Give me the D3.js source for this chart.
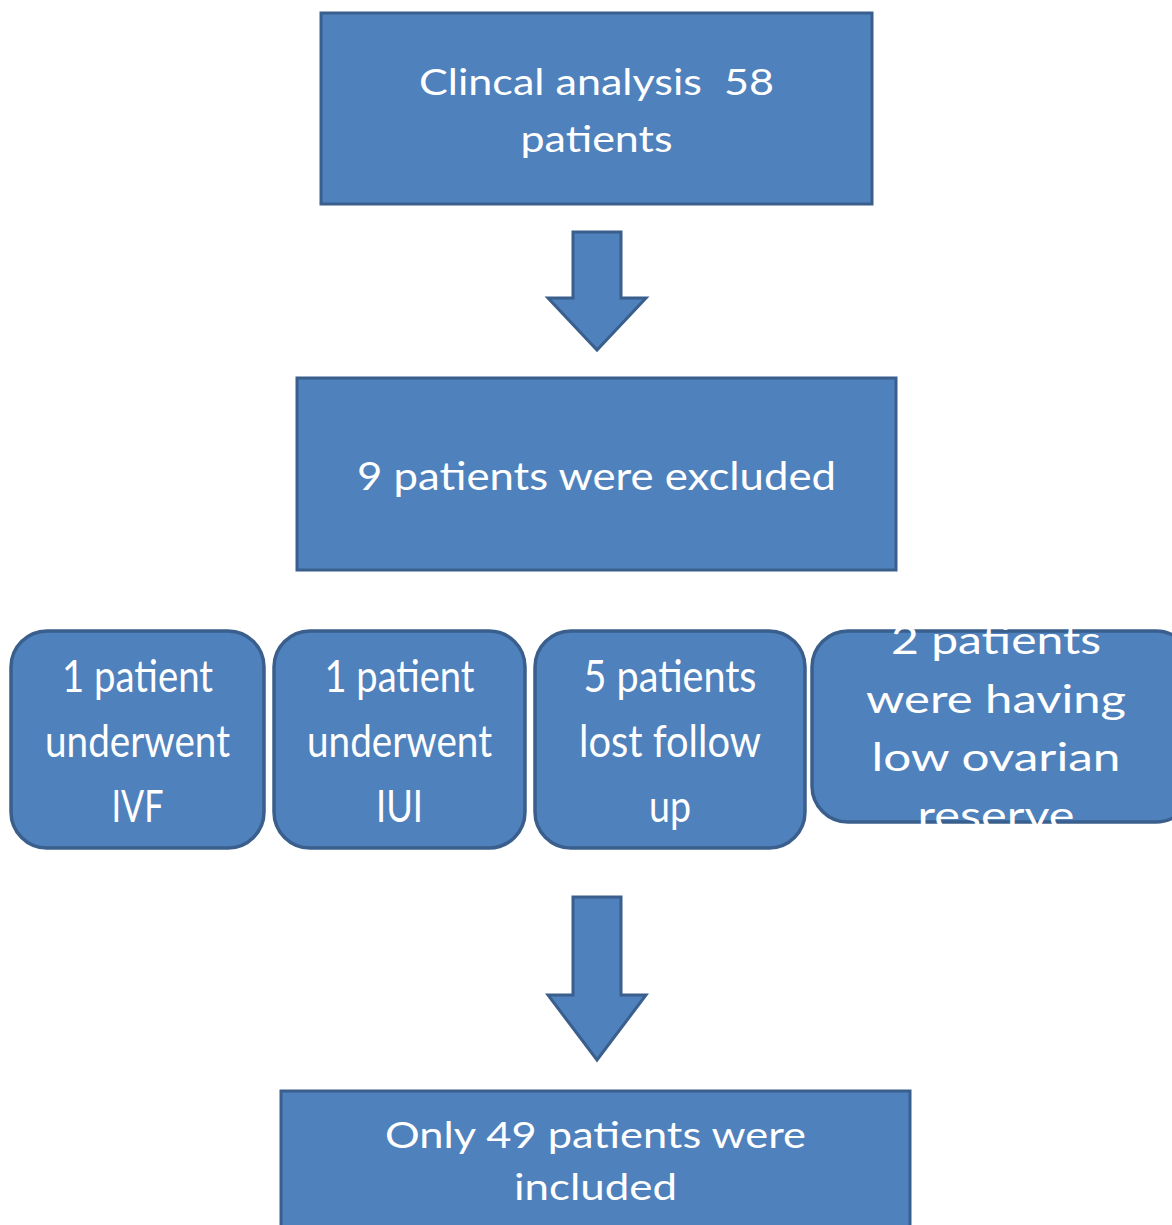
<!DOCTYPE html>
<html><head><meta charset="utf-8">
<script src="https://cdn.jsdelivr.net/npm/d3@7"></script>
<style>html,body{margin:0;padding:0;background:#fff;overflow:hidden} text{white-space:pre}</style>
</head><body>
<svg id="c" width="1172" height="1225"></svg>
<script>
// ---- data ----
const topLabel = ["Clincal analysis  58", "patients"];
const excludedLabel = ["9 patients were excluded"];
const reasonLabels = [
  ["1 patient", "underwent", "IVF"],
  ["1 patient", "underwent", "IUI"],
  ["5 patients", "lost follow", "up"],
  ["2 patients", "were having", "low ovarian", "reserve"]
];
const includedLabel = ["Only 49 patients were", "included"];

// ---- layout ----
const FILL = "#4f81bd", STROKE = "#3a5f8d", FONT = "Lato, 'Open Sans', sans-serif";
const svg = d3.select("#c");

const rects = [
  {x:321, y:13, w:551, h:191, lines:topLabel, base:[95,152], fs:37, widths:[355,152]},
  {x:297, y:378, w:599, h:192, lines:excludedLabel, base:[490], fs:38, widths:[479]},
  {x:281, y:1091, w:629, h:150, lines:includedLabel, base:[1148,1200], fs:37, widths:[421,163]}
];
const rounded = [
  {x:11, y:631, w:253, h:217, fs:44, base:[692,757,822], widths:[151,185,52]},
  {x:274, y:631, w:251, h:217, fs:44, base:[692,757,822], widths:[150,185,47]},
  {x:535, y:631, w:270, h:217, fs:44, base:[692,757,822], widths:[173,182,42]},
  {x:812, y:631, w:380, h:191, fs:38, base:[654,713,771,829], widths:[210,260,249,157], clip:[626,829]}
];
rounded.forEach((r,i)=> r.lines = reasonLabels[i]);

const arrows = [
  {cx:597, y0:232, yb:298, y1:350},
  {cx:597, y0:897, yb:995, y1:1060}
];

svg.append("defs").selectAll("clipPath").data(rounded.filter(r=>r.clip)).join("clipPath")
  .attr("id",(d,i)=>"clipD"+i)
  .append("rect").attr("x",d=>d.x).attr("y",d=>d.clip[0]).attr("width",d=>d.w).attr("height",d=>d.clip[1]-d.clip[0]);

function drawText(g, d, clipId){
  const cx = d.x + d.w/2;
  const t = g.append("g");
  if (clipId) t.attr("clip-path", `url(#${clipId})`);
  d.lines.forEach((s,i)=>{
    const cxl = (d.cxs ? d.cxs[i] : cx);
    t.append("text").attr("x", cxl).attr("y", d.base[i])
      .attr("text-anchor","middle").attr("fill","#fff")
      .attr("font-family",FONT).attr("font-size",d.fs)
      .attr("textLength", d.widths[i]).attr("lengthAdjust","spacingAndGlyphs")
      .text(s);
  });
}

// rectangles
rects.forEach(d=>{
  const g = svg.append("g");
  g.append("rect").attr("x",d.x).attr("y",d.y).attr("width",d.w).attr("height",d.h)
    .attr("fill",FILL).attr("stroke",STROKE).attr("stroke-width",3);
  drawText(g,d);
});

// rounded boxes
rounded.forEach(d=>{
  const g = svg.append("g");
  g.append("rect").attr("x",d.x).attr("y",d.y).attr("width",d.w).attr("height",d.h)
    .attr("rx",36).attr("ry",36)
    .attr("fill",FILL).attr("stroke",STROKE).attr("stroke-width",3.5);
});
// box D text centre
rounded[3].cxs = [996,996,996,996];
let ci = 0;
rounded.forEach(d=>{ drawText(svg, d, d.clip ? "clipD"+(ci++) : null); });

// arrows
const line = d3.line();
arrows.forEach(a=>{
  const sw = 24, hw = 49;
  const pts = [[a.cx-sw,a.y0],[a.cx+sw,a.y0],[a.cx+sw,a.yb],[a.cx+hw,a.yb],[a.cx,a.y1],[a.cx-hw,a.yb],[a.cx-sw,a.yb]];
  svg.append("path").attr("d", line(pts)+"Z")
    .attr("fill",FILL).attr("stroke",STROKE).attr("stroke-width",3).attr("stroke-linejoin","miter");
});
</script>
</body></html>
